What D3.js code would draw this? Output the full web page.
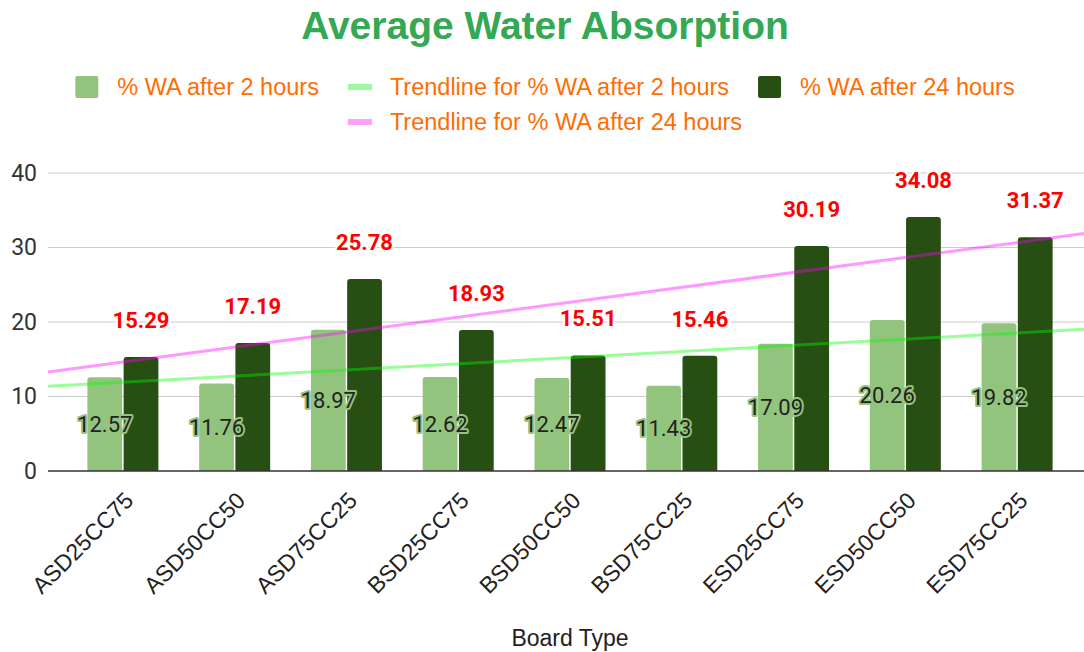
<!DOCTYPE html>
<html lang="en">
<head>
<meta charset="utf-8">
<title>Average Water Absorption</title>
<script src="https://d3js.org/d3.v7.min.js"></script>
<style>
  html, body { margin: 0; padding: 0; background: #fff; }
  svg { display: block; }
  .tick text { font-family: Roboto, sans-serif; }
</style>
</head>
<body>
<div id="chart"></div>
<script>
// data
const boardTypes = ["ASD25CC75", "ASD50CC50", "ASD75CC25", "BSD25CC75", "BSD50CC50",
                    "BSD75CC25", "ESD25CC75", "ESD50CC50", "ESD75CC25"];
const wa2h  = [12.57, 11.76, 18.97, 12.62, 12.47, 11.43, 17.09, 20.26, 19.82];
const wa24h = [15.29, 17.19, 25.78, 18.93, 15.51, 15.46, 30.19, 34.08, 31.37];
const yTicks = [0, 10, 20, 30, 40];
const legendRows = [
  ["% WA after 2 hours", "Trendline for % WA after 2 hours", "% WA after 24 hours"],
  ["Trendline for % WA after 24 hours"]
];

const W = 1084, H = 652;
const plotL = 48, plotR = 1084, plotT = 173, plotB = 471;
const colLight = "#93c47d", colDark = "#274e13";
const arial = "'Liberation Sans', Arial, sans-serif";

const svg = d3.select("#chart").append("svg").attr("width", W).attr("height", H);

const x = d3.scaleBand().domain(boardTypes).range([67, 1073]).padding(0);
const bw = x.bandwidth();
const inner = d3.scaleBand().domain(["2h", "24h"])
  .range([(bw - 71) / 2, (bw + 71) / 2]).paddingInner(0.04);
const y = d3.scaleLinear().domain([0, 40]).range([plotB, plotT]);

// title
svg.append("text")
  .attr("x", 545).attr("y", 39)
  .attr("text-anchor", "middle")
  .style("font-family", arial)
  .style("font-weight", "bold").style("font-size", "39px")
  .attr("fill", "#34a853")
  .text("Average Water Absorption");

// gridlines
svg.append("g").selectAll("line").data(yTicks.filter(d => d > 0)).join("line")
  .attr("x1", plotL).attr("x2", plotR)
  .attr("y1", d => y(d)).attr("y2", d => y(d))
  .attr("stroke", "#cccccc").attr("stroke-width", 1);

// y axis labels
const yAxis = d3.axisLeft(y).tickValues(yTicks).tickSize(0).tickPadding(11);
svg.append("g").attr("transform", `translate(${plotL},0)`).call(yAxis)
  .call(g => g.select(".domain").remove())
  .call(g => g.selectAll("text").style("font-size", "23px").attr("fill", "#333"));

// bars
function topRounded(x0, w, yTop, yBot, r) {
  r = Math.min(r, yBot - yTop);
  return `M${x0},${yBot}V${yTop + r}Q${x0},${yTop} ${x0 + r},${yTop}H${x0 + w - r}` +
         `Q${x0 + w},${yTop} ${x0 + w},${yTop + r}V${yBot}Z`;
}
const groups = svg.append("g").selectAll("g").data(boardTypes).join("g")
  .attr("transform", d => `translate(${x(d)},0)`);

groups.append("path")
  .attr("d", (d, i) => topRounded(inner("2h"), inner.bandwidth(), y(wa2h[i]), plotB, 3))
  .attr("fill", colLight);
groups.append("path")
  .attr("d", (d, i) => topRounded(inner("24h"), inner.bandwidth(), y(wa24h[i]), plotB, 3))
  .attr("fill", colDark);

// x axis baseline
svg.append("line")
  .attr("x1", plotL).attr("x2", plotR).attr("y1", plotB).attr("y2", plotB)
  .attr("stroke", "#333").attr("stroke-width", 1.5);

// trendlines (linear regression over the category index)
function regression(vals) {
  const xs = vals.map((v, i) => i + 1);
  const mx = d3.mean(xs), my = d3.mean(vals);
  const sxy = d3.sum(xs, (xv, i) => (xv - mx) * (vals[i] - my));
  const sxx = d3.sum(xs, xv => (xv - mx) * (xv - mx));
  const b = sxy / sxx;
  return t => my + b * (t - mx);
}
const c0 = x(boardTypes[0]) + bw / 2;
const pxToIdx = px => 1 + (px - c0) / x.step();
const trend = [
  { fn: regression(wa2h), color: "#00ff00" },
  { fn: regression(wa24h), color: "#ff00ff" }
];
trend.forEach(t => {
  svg.append("line")
    .attr("x1", plotL).attr("x2", plotR)
    .attr("y1", y(t.fn(pxToIdx(plotL)))).attr("y2", y(t.fn(pxToIdx(plotR))))
    .attr("stroke", t.color).attr("stroke-opacity", 0.4).attr("stroke-width", 3);
});

// data labels
groups.append("text")
  .attr("x", inner("2h") + inner.bandwidth() / 2)
  .attr("y", (d, i) => (y(wa2h[i]) + plotB) / 2)
  .attr("dy", "0.35em")
  .attr("text-anchor", "middle")
  .style("font-family", "Roboto, sans-serif").style("font-size", "22px")
  .attr("fill", "#222")
  .attr("stroke", colLight).attr("stroke-width", 4).attr("stroke-linejoin", "round")
  .style("paint-order", "stroke")
  .text((d, i) => wa2h[i].toFixed(2));

groups.append("text")
  .attr("x", inner("24h") + inner.bandwidth() / 2)
  .attr("y", (d, i) => y(wa24h[i]) - 29)
  .attr("text-anchor", "middle")
  .style("font-family", "Roboto, sans-serif").style("font-size", "22px")
  .style("font-weight", "bold")
  .attr("fill", "#ff0000")
  .attr("stroke", "#fff").attr("stroke-width", 4).attr("stroke-linejoin", "round")
  .style("paint-order", "stroke")
  .text((d, i) => wa24h[i].toFixed(2));

// x labels
svg.append("g").selectAll("text").data(boardTypes).join("text")
  .attr("transform", d => `translate(${x(d) + bw / 2 + 12},${plotB + 31}) rotate(-45)`)
  .attr("text-anchor", "end")
  .style("font-family", arial).style("font-size", "23px")
  .attr("fill", "#222")
  .text(d => d);

// axis title
svg.append("text")
  .attr("x", 570).attr("y", 646)
  .attr("text-anchor", "middle")
  .style("font-family", arial).style("font-size", "23px")
  .attr("fill", "#222")
  .text("Board Type");

// legend
const swatch = {
  "% WA after 2 hours": { type: "rect", color: colLight },
  "Trendline for % WA after 2 hours": { type: "line", color: "#9ff79f" },
  "% WA after 24 hours": { type: "rect", color: colDark },
  "Trendline for % WA after 24 hours": { type: "line", color: "#fb9ffb" }
};
const legend = svg.append("g");
legendRows.forEach((row, r) => {
  const cy = 87 + r * 35;
  const rowG = legend.append("g");
  let cur = 0;
  row.forEach(label => {
    const s = swatch[label];
    const item = rowG.append("g").attr("transform", `translate(${cur},0)`);
    if (s.type === "rect") {
      item.append("rect").attr("x", 0).attr("y", cy - 11).attr("width", 23).attr("height", 22)
        .attr("rx", 2).attr("fill", s.color);
    } else {
      item.append("rect").attr("x", 0).attr("y", cy - 3).attr("width", 24).attr("height", 6)
        .attr("fill", s.color);
    }
    const t = item.append("text")
      .attr("x", 42).attr("y", cy).attr("dy", "0.35em")
      .style("font-family", arial).style("font-size", "23.5px")
      .attr("fill", "#ff6d01")
      .text(label);
    cur += 42 + t.node().getComputedTextLength() + 29;
  });
  const total = cur - 29;
  rowG.attr("transform", `translate(${545 - total / 2},0)`);
});
</script>
</body>
</html>
